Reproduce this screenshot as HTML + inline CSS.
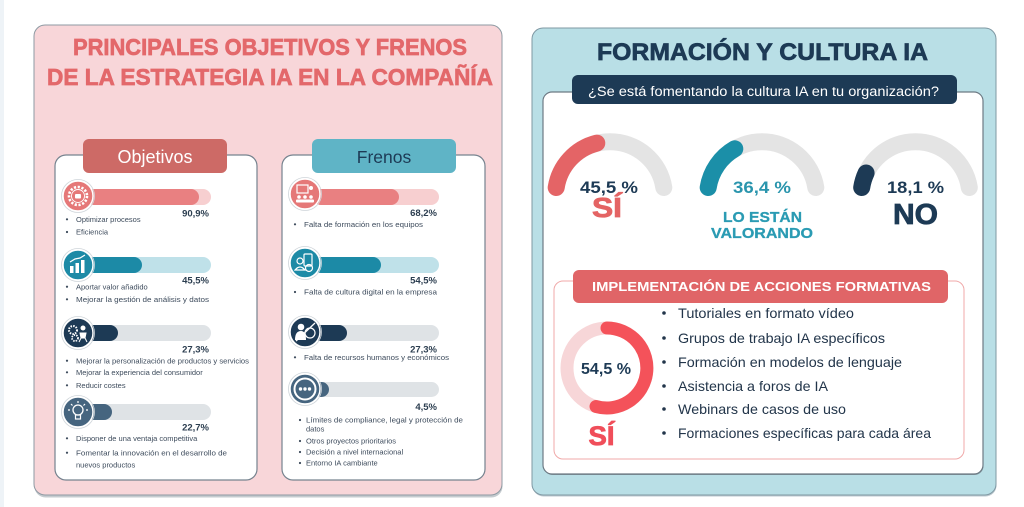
<!DOCTYPE html>
<html><head><meta charset="utf-8"><style>
html,body{margin:0;padding:0;background:#fff;}
svg{display:block;}
text{font-family:"Liberation Sans",Arial,sans-serif;}
</style></head><body>
<svg width="1024" height="507" viewBox="0 0 1024 507" xmlns="http://www.w3.org/2000/svg">
<rect width="1024" height="507" fill="#fff"/>
<rect x="0" y="0" width="4" height="507" fill="#eef3f7"/>

<!-- LEFT PANEL -->
<rect x="34.5" y="26.5" width="468" height="471" rx="11" fill="#8c979f" opacity=".5"/>
<rect x="34" y="25" width="468" height="470" rx="11" fill="#f8d6d9" stroke="#8e9aa3" stroke-width="1"/>
<text x="270" y="55" font-size="23" font-weight="bold" fill="#e3686b" stroke="#e3686b" stroke-width="0.7" text-anchor="middle" textLength="394" lengthAdjust="spacingAndGlyphs">PRINCIPALES OBJETIVOS Y FRENOS</text>
<text x="270" y="85" font-size="23" font-weight="bold" fill="#e3686b" stroke="#e3686b" stroke-width="0.7" text-anchor="middle" textLength="446" lengthAdjust="spacingAndGlyphs">DE LA ESTRATEGIA IA EN LA COMPAÑÍA</text>

<!-- Objetivos card -->
<rect x="55" y="155" width="202" height="325" rx="11" fill="#fff" stroke="#76838f" stroke-width="1.2"/>
<rect x="83" y="139" width="144" height="34" rx="6" fill="#cd6a66"/>
<text x="155" y="163" font-size="18" fill="#fff" text-anchor="middle">Objetivos</text>

<!-- Frenos card -->
<rect x="282" y="155" width="203" height="325" rx="11" fill="#fff" stroke="#76838f" stroke-width="1.2"/>
<rect x="312" y="139" width="144" height="34" rx="6" fill="#5fb4c6"/>
<text x="384" y="163" font-size="17.5" fill="#1d3a55" text-anchor="middle">Frenos</text>

<!-- Objetivos bars -->
<g>
<rect x="86" y="189" width="125" height="16" rx="8" fill="#f7cfd0"/>
<rect x="86" y="189" width="113" height="16" rx="8" fill="#e98081"/>
<rect x="86" y="257" width="125" height="16" rx="8" fill="#bfe1e9"/>
<rect x="86" y="257" width="56" height="16" rx="8" fill="#1c8aa6"/>
<rect x="86" y="325" width="125" height="16" rx="8" fill="#dfe3e6"/>
<rect x="86" y="325" width="32" height="16" rx="8" fill="#1d3a55"/>
<rect x="86" y="404" width="125" height="16" rx="8" fill="#dfe3e6"/>
<rect x="86" y="404" width="26" height="16" rx="8" fill="#46657f"/>
</g>
<!-- Frenos bars -->
<g>
<rect x="313" y="189" width="126" height="16" rx="8" fill="#f7cfd0"/>
<rect x="313" y="189" width="86" height="16" rx="8" fill="#e98081"/>
<rect x="313" y="257" width="126" height="16" rx="8" fill="#bfe1e9"/>
<rect x="313" y="257" width="68" height="16" rx="8" fill="#1c8aa6"/>
<rect x="313" y="325" width="126" height="16" rx="8" fill="#dfe3e6"/>
<rect x="313" y="325" width="34" height="16" rx="8" fill="#1d3a55"/>
<rect x="313" y="382" width="126" height="15" rx="7.5" fill="#dfe3e6"/>
<rect x="313" y="382" width="16" height="15" rx="7.5" fill="#46657f"/>
</g>

<!-- Icons objetivos -->
<g transform="translate(78,196)">
<circle r="16.5" fill="none" stroke="#cfd5da" stroke-width="0.8"/>
<circle r="15" fill="#e57878" stroke="#fff" stroke-width="1.5"/>
<circle r="9" fill="none" stroke="#fff" stroke-width="2.6" stroke-dasharray="2.2 1.6"/>
<circle r="6.5" fill="none" stroke="#fff" stroke-width="0.9"/>
<rect x="-3" y="-2" width="6" height="4.5" rx="1" fill="#fff"/>
</g>
<g transform="translate(78,265)">
<circle r="16.5" fill="none" stroke="#cfd5da" stroke-width="0.8"/>
<circle r="15" fill="#1c8aa6" stroke="#fff" stroke-width="1.5"/>
<rect x="-8" y="1" width="3.5" height="7" fill="#fff"/>
<rect x="-2.5" y="-2" width="3.5" height="10" fill="#fff"/>
<rect x="3" y="-5" width="3.5" height="13" fill="#fff"/>
<polyline points="-8,-3 -3,-6 2,-7 7,-10" fill="none" stroke="#fff" stroke-width="1.2"/>
</g>
<g transform="translate(78,333)">
<circle r="16.5" fill="none" stroke="#cfd5da" stroke-width="0.8"/>
<circle r="15" fill="#1d3a55" stroke="#fff" stroke-width="1.5"/>
<circle cx="-5" cy="-3" r="4" fill="none" stroke="#fff" stroke-width="2" stroke-dasharray="1.5 1.2"/>
<circle cx="-3" cy="5" r="3" fill="none" stroke="#fff" stroke-width="1.8" stroke-dasharray="1.4 1.1"/>
<circle cx="5" cy="-5" r="2.5" fill="#fff"/>
<path d="M2 0 L8 0 L7 5 L3 5 Z M3 5 L1 9 M7 5 L9 9" fill="#fff" stroke="#fff" stroke-width="1"/>
</g>
<g transform="translate(78,412)">
<circle r="16.5" fill="none" stroke="#cfd5da" stroke-width="0.8"/>
<circle r="15" fill="#46657f" stroke="#fff" stroke-width="1.5"/>
<circle cx="0" cy="-2" r="5" fill="none" stroke="#fff" stroke-width="1.3"/>
<rect x="-2.5" y="3" width="5" height="4" fill="none" stroke="#fff" stroke-width="1.2"/>
<path d="M0 -11 V-9 M-7 -8 L-5.5 -6.5 M7 -8 L5.5 -6.5 M-10 -2 H-8 M10 -2 H8" stroke="#fff" stroke-width="1.2"/>
</g>

<!-- Icons frenos -->
<g transform="translate(305,194)">
<circle r="16.5" fill="none" stroke="#cfd5da" stroke-width="0.8"/>
<circle r="15" fill="#e57878" stroke="#fff" stroke-width="1.5"/>
<rect x="-8" y="-9" width="11" height="8" fill="none" stroke="#fff" stroke-width="1.2"/>
<circle cx="6" cy="-6" r="2" fill="#fff"/>
<circle cx="-6" cy="3" r="1.8" fill="#fff"/><circle cx="0" cy="3" r="1.8" fill="#fff"/><circle cx="6" cy="3" r="1.8" fill="#fff"/>
<rect x="-9" y="5.5" width="18" height="3" rx="1" fill="#fff"/>
</g>
<g transform="translate(305,263)">
<circle r="16.5" fill="none" stroke="#cfd5da" stroke-width="0.8"/>
<circle r="15" fill="#1c8aa6" stroke="#fff" stroke-width="1.5"/>
<rect x="-1" y="-9" width="8" height="12" rx="1" fill="none" stroke="#fff" stroke-width="1.2"/>
<circle cx="-5" cy="-2" r="3" fill="none" stroke="#fff" stroke-width="1.2"/>
<path d="M-10 7 Q-5 1 0 7 Z" fill="none" stroke="#fff" stroke-width="1.2"/>
<circle cx="4" cy="5" r="3.5" fill="none" stroke="#fff" stroke-width="1.2"/>
</g>
<g transform="translate(305,332)">
<circle r="16.5" fill="none" stroke="#cfd5da" stroke-width="0.8"/>
<circle r="15" fill="#1d3a55" stroke="#fff" stroke-width="1.5"/>
<circle cx="-4" cy="-5" r="3.3" fill="#fff"/>
<path d="M-10 8 Q-10 -1 -4 -1 Q1 -1 1 8 Z" fill="#fff"/>
<circle cx="5" cy="1" r="5" fill="none" stroke="#fff" stroke-width="1.2"/>
<line x1="-9" y1="9" x2="10" y2="-9" stroke="#fff" stroke-width="1.3"/>
</g>
<g transform="translate(305,389)">
<circle r="16.5" fill="none" stroke="#cfd5da" stroke-width="0.8"/>
<circle r="15" fill="#46657f" stroke="#fff" stroke-width="1.5"/>
<circle r="10.5" fill="none" stroke="#fff" stroke-width="2"/>
<circle cx="-4.5" r="1.7" fill="#fff"/><circle cx="0" r="1.7" fill="#fff"/><circle cx="4.5" r="1.7" fill="#fff"/>
</g>

<!-- Percentages -->
<g font-size="9.5" font-weight="bold" fill="#2c3e50" text-anchor="end">
<text x="209" y="216.5">90,9%</text>
<text x="209" y="283.5">45,5%</text>
<text x="209" y="352.5">27,3%</text>
<text x="209" y="430.5">22,7%</text>
<text x="437" y="216">68,2%</text>
<text x="437" y="283.5">54,5%</text>
<text x="437" y="352.5">27,3%</text>
<text x="437" y="410">4,5%</text>
</g>

<!-- Bullets objetivos -->
<g fill="#3d4b5c" font-size="7.5">
<circle cx="67" cy="219.3" r="1.1"/><text x="76" y="222">Optimizar procesos</text>
<circle cx="67" cy="232" r="1.1"/><text x="76" y="234.7">Eficiencia</text>
<circle cx="67" cy="286.7" r="1.1"/><text x="76" y="289.4">Aportar valor añadido</text>
<circle cx="67" cy="299.3" r="1.1"/><text x="76" y="302" textLength="133" lengthAdjust="spacingAndGlyphs">Mejorar la gestión de análisis y datos</text>
<circle cx="67" cy="360.7" r="1.1"/><text x="76" y="363.4" textLength="173" lengthAdjust="spacingAndGlyphs">Mejorar la personalización de productos y servicios</text>
<circle cx="67" cy="372.3" r="1.1"/><text x="76" y="375">Mejorar la experiencia del consumidor</text>
<circle cx="67" cy="385.3" r="1.1"/><text x="76" y="388">Reducir costes</text>
<circle cx="67" cy="438.3" r="1.1"/><text x="76" y="441">Disponer de una ventaja competitiva</text>
<circle cx="67" cy="452.7" r="1.1"/><text x="76" y="455.4" textLength="151" lengthAdjust="spacingAndGlyphs">Fomentar la innovación en el desarrollo de</text>
<text x="76" y="467.7">nuevos productos</text>
</g>
<!-- Bullets frenos -->
<g fill="#3d4b5c" font-size="7.5">
<circle cx="295" cy="224.3" r="1.1"/><text x="304" y="227" textLength="119" lengthAdjust="spacingAndGlyphs">Falta de formación en los equipos</text>
<circle cx="295" cy="292" r="1.1"/><text x="304" y="294.7" textLength="133" lengthAdjust="spacingAndGlyphs">Falta de cultura digital en la empresa</text>
<circle cx="295" cy="357.3" r="1.1"/><text x="304" y="360" textLength="145" lengthAdjust="spacingAndGlyphs">Falta de recursos humanos y económicos</text>
<circle cx="300" cy="420" r="1.1"/><text x="306" y="422.7" textLength="157" lengthAdjust="spacingAndGlyphs">Límites de compliance, legal y protección de</text>
<text x="306" y="431.7">datos</text>
<circle cx="300" cy="441" r="1.1"/><text x="306" y="443.7">Otros proyectos prioritarios</text>
<circle cx="300" cy="452" r="1.1"/><text x="306" y="454.7">Decisión a nivel internacional</text>
<circle cx="300" cy="463" r="1.1"/><text x="306" y="465.7">Entorno IA cambiante</text>
</g>

<!-- RIGHT PANEL -->
<rect x="532.5" y="29.5" width="464" height="467" rx="11" fill="#7e96a1" opacity=".5"/>
<rect x="532" y="28" width="464" height="467" rx="11" fill="#b9dfe6" stroke="#7f98a3" stroke-width="1"/>
<text x="762.5" y="60" font-size="24" font-weight="bold" fill="#1d3a55" stroke="#1d3a55" stroke-width="0.7" text-anchor="middle" textLength="331" lengthAdjust="spacingAndGlyphs">FORMACIÓN Y CULTURA IA</text>

<rect x="543.5" y="93" width="440" height="382" rx="9" fill="#5f6b73" opacity=".6"/>
<rect x="543" y="92" width="440" height="382" rx="9" fill="#fff" stroke="#6d7a84" stroke-width="1.2"/>
<rect x="572" y="75" width="385" height="29" rx="6" fill="#1d3a55"/>
<text x="763.5" y="96" font-size="13.5" fill="#fff" text-anchor="middle" textLength="351" lengthAdjust="spacingAndGlyphs">¿Se está fomentando la cultura IA en tu organización?</text>

<!-- Gauges -->
<g fill="none" stroke-width="17" stroke-linecap="round">
<path d="M556.2 187.5 A54.5 54.5 0 0 1 663.8 187.5" stroke="#e4e4e4"/>
<path d="M556.2 187.5 A54.5 54.5 0 0 1 596.8 143.1" stroke="#e46466"/>
<path d="M708.2 187.5 A54.5 54.5 0 0 1 815.8 187.5" stroke="#e4e4e4"/>
<path d="M708.2 187.5 A54.5 54.5 0 0 1 734.8 148.8" stroke="#1b8fa8"/>
<path d="M861.7 187.5 A54.5 54.5 0 0 1 969.3 187.5" stroke="#e4e4e4"/>
<path d="M861.7 187.5 A54.5 54.5 0 0 1 866.1 173" stroke="#1d3a55"/>
</g>
<g font-weight="bold" text-anchor="middle">
<text x="609" y="193" font-size="17" fill="#1d3a55" textLength="58" lengthAdjust="spacingAndGlyphs">45,5 %</text>
<text x="762" y="193" font-size="17" fill="#2a95ad" textLength="58" lengthAdjust="spacingAndGlyphs">36,4 %</text>
<text x="915.5" y="193" font-size="17" fill="#1d3a55" textLength="57" lengthAdjust="spacingAndGlyphs">18,1 %</text>
<text x="607" y="217" font-size="28" fill="#e46464" stroke="#e46464" stroke-width="0.8" textLength="30" lengthAdjust="spacingAndGlyphs">SÍ</text>
<text x="762.5" y="222" font-size="15" fill="#2a9bb3" stroke="#2a9bb3" stroke-width="0.3" textLength="79" lengthAdjust="spacingAndGlyphs">LO ESTÁN</text>
<text x="762" y="238" font-size="15" fill="#2a9bb3" stroke="#2a9bb3" stroke-width="0.3" textLength="102" lengthAdjust="spacingAndGlyphs">VALORANDO</text>
<text x="915.5" y="224" font-size="29" fill="#1d3a55" stroke="#1d3a55" stroke-width="0.8" textLength="45" lengthAdjust="spacingAndGlyphs">NO</text>
</g>

<!-- Implementación -->
<rect x="554" y="281" width="410" height="178" rx="9" fill="#fff" stroke="#f0a9a9" stroke-width="1"/>
<rect x="573" y="270" width="375" height="33" rx="6" fill="#e06567"/>
<text x="761.5" y="291" font-size="13" font-weight="bold" fill="#fff" text-anchor="middle" textLength="339" lengthAdjust="spacingAndGlyphs">IMPLEMENTACIÓN DE ACCIONES FORMATIVAS</text>

<circle cx="607" cy="368" r="40" fill="none" stroke="#f7d6d8" stroke-width="13"/>
<path d="M607 328 A40 40 0 1 1 596 406.5" fill="none" stroke="#f4525a" stroke-width="13" stroke-linecap="round"/>
<text x="606" y="374" font-size="16" font-weight="bold" fill="#1d3a55" text-anchor="middle" textLength="50" lengthAdjust="spacingAndGlyphs">54,5 %</text>
<text x="601.5" y="445" font-size="27" font-weight="bold" fill="#f04e5a" stroke="#f04e5a" stroke-width="0.8" text-anchor="middle" textLength="26" lengthAdjust="spacingAndGlyphs">SÍ</text>

<g fill="#22354a" font-size="14">
<circle cx="664" cy="313" r="1.8"/><text x="678" y="318" textLength="176" lengthAdjust="spacingAndGlyphs">Tutoriales en formato vídeo</text>
<circle cx="664" cy="338" r="1.8"/><text x="678" y="343" textLength="207" lengthAdjust="spacingAndGlyphs">Grupos de trabajo IA específicos</text>
<circle cx="664" cy="362" r="1.8"/><text x="678" y="367" textLength="224" lengthAdjust="spacingAndGlyphs">Formación en modelos de lenguaje</text>
<circle cx="664" cy="386" r="1.8"/><text x="678" y="391" textLength="150" lengthAdjust="spacingAndGlyphs">Asistencia a foros de IA</text>
<circle cx="664" cy="409" r="1.8"/><text x="678" y="414" textLength="168" lengthAdjust="spacingAndGlyphs">Webinars de casos de uso</text>
<circle cx="664" cy="433" r="1.8"/><text x="678" y="438" textLength="253" lengthAdjust="spacingAndGlyphs">Formaciones específicas para cada área</text>
</g>
</svg>
</body></html>
